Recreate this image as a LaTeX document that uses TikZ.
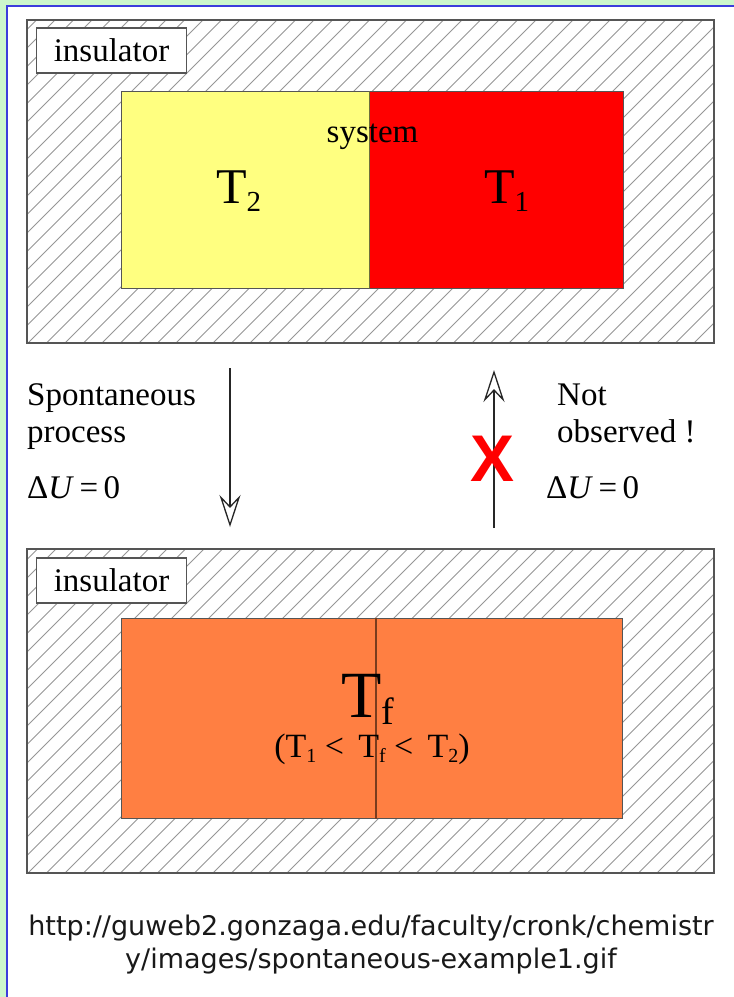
\documentclass[tikz,border=0pt]{standalone}
\usepackage{fontspec}
\setmainfont{Liberation Serif}
\newfontfamily\urlfont{DejaVu Sans}
\newfontfamily\xfont{Liberation Sans}
\usetikzlibrary{arrows.meta}
\definecolor{bggreen}{RGB}{204,246,204}
\definecolor{edgeblue}{RGB}{60,60,220}
\definecolor{hatchgray}{RGB}{150,150,150}
\definecolor{boxgray}{RGB}{85,85,85}
\definecolor{sysyellow}{RGB}{255,255,128}
\definecolor{sysred}{RGB}{255,0,0}
\definecolor{sysorange}{RGB}{255,127,66}
\definecolor{divgreen}{RGB}{110,110,60}
\definecolor{divbrown}{RGB}{120,60,30}
\newcommand{\fsz}[1]{\fontsize{#1}{#1}\selectfont}
\tikzset{
  hatch/.style={draw=hatchgray, line width=0.9pt},
  insul/.style={draw=boxgray, line width=1.6pt},
  labelbox/.style={draw=boxgray, line width=1.4pt, fill=white, minimum width=150pt, minimum height=45pt, inner sep=0pt, font=\fsz{33}},
  half/.style={anchor=north west, inner sep=0pt, draw=boxgray, line width=0.8pt},
  txt/.style={inner sep=0pt, font=\fsz{33}},
  arr/.style={draw=black!85, line width=2pt, -{Stealth[open, length=32pt, width=21pt, inset=11pt, line width=1.3pt]}},
}
\begin{document}
\begin{tikzpicture}[x=1pt,y=-1pt]
\useasboundingbox (0,0) rectangle (734,997);
\fill[bggreen] (0,0) rectangle (734,997);
\fill[white] (7,6) rectangle (734,997);
\draw[edgeblue, line width=2pt] (7,997) -- (7,6) -- (734,6);

% ---------- top insulator ----------
\begin{scope}
  \clip (27,20) rectangle (714,343);
  \foreach \k in {0,...,57} \draw[hatch] ({-305+\k*18.5},343) -- ++(330,-330);
\end{scope}
\draw[insul] (27,20) rectangle (714,343);
\node[labelbox] (lab1) at (111.5,50.5) {insulator};
\node[half, fill=sysyellow, minimum width=248pt, minimum height=197pt] (cold) at (121,91) {};
\node[half, fill=sysred, minimum width=254pt, minimum height=197pt] (hot) at (369,91) {};
\draw[divgreen, line width=1.2pt] (cold.north east) -- (cold.south east);
\node[txt, anchor=base] (sys) at (372.5,142) {system};
\node[inner sep=0pt, anchor=base west] (t2) at (216,203) {\fsz{50}T\raisebox{-8pt}{\fsz{29}2}};
\node[inner sep=0pt, anchor=base west] (t1) at (484,203) {\fsz{50}T\raisebox{-8pt}{\fsz{29}1}};

% ---------- arrows and labels ----------
\coordinate (d1) at (230,368);
\coordinate (d2) at (230,527);
\coordinate (u1) at (494,528);
\coordinate (u2) at (494,370);
\draw[arr] (d1) -- (d2);
\draw[arr] (u1) -- (u2);
\node[text=red, font=\xfont\bfseries\fsz{66}, inner sep=0pt] (cross) at (493,459) {X};

\node[txt, anchor=base west] (sp1) at (27,405) {Spontaneous};
\node[txt, anchor=base west] (sp2) at (27,442) {process};
\node[txt, anchor=base west] (du1) at (27,498) {Δ\textit{U}\,=\,0};
\node[txt, anchor=base west] (no1) at (557,405) {Not};
\node[txt, anchor=base west] (no2) at (557,442) {observed !};
\node[txt, anchor=base west] (du2) at (546,498) {Δ\textit{U}\,=\,0};

% ---------- bottom insulator ----------
\begin{scope}
  \clip (27,549) rectangle (714,873);
  \foreach \k in {0,...,57} \draw[hatch] ({-305+\k*18.5},873) -- ++(330,-330);
\end{scope}
\draw[insul] (27,549) rectangle (714,873);
\node[labelbox] (lab2) at (111.5,580.5) {insulator};
\node[half, fill=sysorange, minimum width=254pt, minimum height=200pt] (fl) at (121,618) {};
\node[half, fill=sysorange, minimum width=247pt, minimum height=200pt] (fr) at (375,618) {};
\draw[divbrown, line width=1.6pt] (fl.north east) -- (fl.south east);
\node[inner sep=0pt, anchor=base west] (tf) at (341,717) {\fsz{66}T\raisebox{-7pt}{\fsz{38}f}};
\node[inner sep=0pt, anchor=base] (rel) at (372,757) {\fsz{34}(T\raisebox{-5pt}{\fsz{20}1} <\, T\raisebox{-5pt}{\fsz{20}f} <\, T\raisebox{-5pt}{\fsz{20}2})};

% ---------- source ----------
\node[inner sep=0pt, anchor=base, font=\urlfont\fsz{27}, text=black!90] (url1) at (371,935) {http://guweb2.gonzaga.edu/faculty/cronk/chemistr};
\node[inner sep=0pt, anchor=base, font=\urlfont\fsz{27}, text=black!90] (url2) at (371,968) {y/images/spontaneous-example1.gif};
\end{tikzpicture}
\end{document}
